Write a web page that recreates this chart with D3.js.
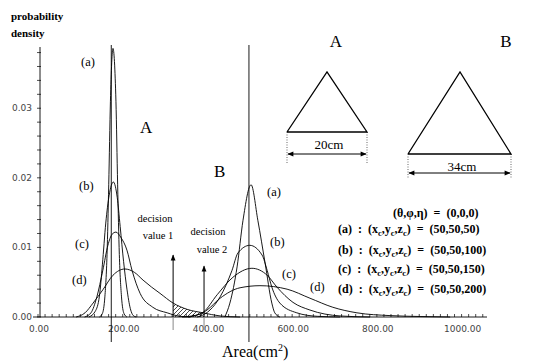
<!DOCTYPE html>
<html><head><meta charset="utf-8">
<script src="https://cdn.jsdelivr.net/npm/d3@7"></script>
<style>
body{margin:0;background:#fff;}
svg{display:block;}
</style></head>
<body>
<svg id="chart" width="536" height="364"></svg>
<script>
// ---------- data ----------
const xTickValues = [0, 200, 400, 600, 800, 1000];
const yTickValues = [0, 0.01, 0.02, 0.03];

const areaAa = [145,152,158,163,167,171,177,184,188,192,197,203,210];
const densAa = [0,0.0005,0.003,0.009,0.019,0.031,0.0386,0.031,0.019,0.009,0.003,0.0005,0];

const areaAb = [120,135,145,152,160,168,178,187,194,202,210,218,225,232];
const densAb = [0,0.0008,0.003,0.0075,0.0135,0.0175,0.0194,0.0172,0.013,0.008,0.004,0.0012,0.0002,0];

const areaAc = [110,125,139,153,165,175,184,196,210,222,241,271,305,335,360];
const densAc = [0,0.0006,0.0029,0.0067,0.0103,0.0119,0.0122,0.0114,0.0096,0.0067,0.0034,0.0014,0.0006,0.0001,0];

const areaAd = [90,111,130,153,177,205,228,248,268,288,319,352,390,430,477];
const densAd = [0,0.0006,0.002,0.0039,0.006,0.0069,0.0064,0.0053,0.0043,0.0034,0.002,0.0011,0.0006,0.00015,0];

const areaBa = [441,453,470,484,503,519,536,552,559,571];
const densBa = [0,0.002,0.0072,0.0139,0.019,0.0139,0.0078,0.002,0.0006,0];

const areaBb = [375,382,406,430,458,472,500,529,541,552,571,611,659,713];
const densBb = [0,0.0001,0.001,0.0029,0.0067,0.0092,0.0103,0.0089,0.0067,0.0043,0.002,0.0006,0.0001,0];

const areaBc = [355,390,423,460,505,541,564,602,642,713,784];
const densBc = [0,0.0007,0.0032,0.0057,0.007,0.006,0.0043,0.0021,0.001,0.00015,0];

const areaBd = [340,382,399,430,477,524,588,642,696,753,831,902,973];
const densBd = [0,0.0004,0.001,0.0027,0.0042,0.0045,0.004,0.0027,0.0014,0.0006,0.0002,0.00007,0];

const trueAreas = [173, 498];          // vertical reference lines (A, B)
const decisionValues = [319, 392];     // decision value 1, 2
const decisionTops = [0.0089, 0.0073];
const curveLabels = ["(a)", "(b)", "(c)", "(d)"];
const legendZc = [50, 100, 150, 200];
const triangleSides = ["20cm", "34cm"];

// ---------- setup ----------
const svg = d3.select("#chart");
const serif = "'Liberation Serif','Times New Roman',serif";
const sans = "'DejaVu Sans',sans-serif";

const x = d3.scaleLinear().domain([0, 1060]).range([38, 487]);
const y = d3.scaleLinear().domain([0, 0.0388]).range([317, 47]);

const defs = svg.append("defs");
const hatch = defs.append("pattern").attr("id","hatch").attr("patternUnits","userSpaceOnUse")
  .attr("width",4).attr("height",4);
hatch.append("path").attr("d","M-1,1 l2,-2 M0,4 l4,-4 M3,5 l2,-2").attr("stroke","#000").attr("stroke-width",0.7);
function mk(id){
  defs.append("marker").attr("id",id).attr("viewBox","0 0 10 10").attr("refX",9).attr("refY",5)
    .attr("markerWidth",7).attr("markerHeight",6).attr("orient","auto-start-reverse")
    .append("path").attr("d","M0,1 L10,5 L0,9 Z").attr("fill","#000");
}
mk("arr");

// ---------- axes ----------
const minorX = d3.range(0, 1061, 200/12);
const gx = svg.append("g").attr("transform", `translate(0,${y(0)})`);
gx.append("line").attr("x1", 33).attr("x2", x(1060)).attr("y1",0).attr("y2",0).attr("stroke","#000").attr("stroke-width",0.9);
gx.selectAll("line.tk").data(minorX).join("line").attr("class","tk")
  .attr("x1", d=>x(d)).attr("x2", d=>x(d)).attr("y1", 0).attr("y2", -3)
  .attr("stroke","#000").attr("stroke-width",0.7);
gx.selectAll("text").data(xTickValues).join("text")
  .attr("x", d=>x(d)+1).attr("y", 15).attr("text-anchor","middle")
  .attr("font-family", sans).attr("font-size", 9).attr("fill","#444")
  .text(d=>d3.format(".2f")(d));

const gy = svg.append("g").attr("transform", `translate(${x(0)+2},0)`);
gy.append("line").attr("x1",0).attr("x2",0).attr("y1",y(0)).attr("y2",y(0.0388)).attr("stroke","#000").attr("stroke-width",0.9);
gy.selectAll("line.tk").data(d3.range(0, 0.0387, 0.002)).join("line").attr("class","tk")
  .attr("x1",-3).attr("x2",1).attr("y1",d=>y(d)).attr("y2",d=>y(d))
  .attr("stroke","#000").attr("stroke-width",0.7);
gy.selectAll("text").data(yTickValues).join("text")
  .attr("x", -8).attr("y", d=>y(d)+3).attr("text-anchor","end")
  .attr("font-family", sans).attr("font-size", 9).attr("fill","#444")
  .text(d=>d3.format(".2f")(d));

// ---------- hatch between decision values under A(d) ----------
defs.append("clipPath").attr("id","dclip").append("rect")
  .attr("x", x(decisionValues[0])).attr("y", 0)
  .attr("width", x(decisionValues[1]) - x(decisionValues[0])).attr("height", y(0));
const Ad = areaAd.map((a,i)=>[a, densAd[i]]);
svg.append("path").datum(Ad).attr("clip-path","url(#dclip)")
  .attr("d", d3.area().x(d=>x(d[0])).y0(y(0)).y1(d=>y(d[1])).curve(d3.curveMonotoneX))
  .attr("fill","url(#hatch)");

// ---------- curves ----------
const series = [
  [areaAa, densAa],[areaAb, densAb],[areaAc, densAc],[areaAd, densAd],
  [areaBa, densBa],[areaBb, densBb],[areaBc, densBc],[areaBd, densBd]
];
const line = d3.line().x(d=>x(d[0])).y(d=>y(d[1])).curve(d3.curveMonotoneX);
svg.selectAll("path.curve").data(series).join("path").attr("class","curve")
  .attr("d", s => line(s[0].map((a,i)=>[a, s[1][i]])))
  .attr("fill","none").attr("stroke","#000").attr("stroke-width",0.9);

// vertical reference lines
svg.selectAll("line.ref").data(trueAreas).join("line").attr("class","ref")
  .attr("x1", d=>x(d)).attr("x2", d=>x(d)).attr("y1", 45).attr("y2", 342)
  .attr("stroke","#000").attr("stroke-width",0.9);

// decision arrows
decisionValues.forEach((dv,i)=>{
  svg.append("line").attr("x1",x(dv)).attr("x2",x(dv)).attr("y1",y(0)).attr("y2",330)
    .attr("stroke","#888").attr("stroke-width",1);
  svg.append("line").attr("x1",x(dv)).attr("x2",x(dv)).attr("y1",y(0)).attr("y2",y(decisionTops[i]))
    .attr("stroke","#000").attr("stroke-width",1).attr("marker-end","url(#arr)");
});

// ---------- texts ----------
function txt(t, px, py, size, opts={}){
  return svg.append("text").attr("x",px).attr("y",py).attr("font-family",opts.family||serif)
    .attr("font-size",size).attr("font-weight",opts.weight||"normal")
    .attr("text-anchor",opts.anchor||"start").attr("fill","#000")
    .style("white-space","pre").text(t);
}
txt("probability", 11, 20, 11, {weight:"bold"});
txt("density", 11, 37, 11, {weight:"bold"});
txt("A", 140, 133, 17);
txt("B", 214, 177, 17);

const aLabelPos = [[81,66],[79,190],[75,248],[72,284]];
const bLabelPos = [[267,196],[270,246],[282,278],[310,291]];
curveLabels.forEach((l,i)=>{
  txt(l, aLabelPos[i][0], aLabelPos[i][1], 12.5);
  txt(l, bLabelPos[i][0], bLabelPos[i][1], 12.5);
});

txt("decision", 155, 222, 10.5, {anchor:"middle"});
txt("value 1", 158, 239, 10.5, {anchor:"middle"});
txt("decision", 208, 235, 10.5, {anchor:"middle"});
txt("value 2", 212, 253, 10.5, {anchor:"middle"});

// axis title
const at = txt("Area(cm", 222, 357, 16);
at.append("tspan").attr("font-size",10).attr("dy",-6).text("2");
at.append("tspan").attr("dy",6).text(")");

// legend
txt("(θ,φ,η)  =  (0,0,0)", 393, 217, 12, {weight:"bold"});
const legY = [233, 254, 273, 293];
curveLabels.forEach((l,i)=>{
  const t = txt(`${l}  :  (x`, 338, legY[i], 12, {weight:"bold"});
  t.append("tspan").attr("font-size",8.5).attr("dy",3).text("c");
  t.append("tspan").attr("dy",-3).text(",y");
  t.append("tspan").attr("font-size",8.5).attr("dy",3).text("c");
  t.append("tspan").attr("dy",-3).text(",z");
  t.append("tspan").attr("font-size",8.5).attr("dy",3).text("c");
  t.append("tspan").attr("dy",-3).text(`)  =  (50,50,${legendZc[i]})`);
});

// triangles
const tri = [
  {label:"A", lx:336, apex:[327,72], bl:[287,132], br:[367,132], dimY:154, dotEnd:163, tx:329, ty:149},
  {label:"B", lx:506, apex:[460,72], bl:[408,154], br:[511,154], dimY:173, dotEnd:178, tx:462, ty:171}
];
tri.forEach((t,i)=>{
  txt(t.label, t.lx, 47, 17, {anchor:"middle"});
  svg.append("path").attr("d", d3.line()([t.bl, t.apex, t.br, t.bl]))
    .attr("fill","none").attr("stroke","#000").attr("stroke-width",1.3);
  [t.bl[0], t.br[0]].forEach(px=>{
    svg.append("line").attr("x1",px).attr("x2",px).attr("y1",t.bl[1]).attr("y2",t.dotEnd)
      .attr("stroke","#000").attr("stroke-width",0.6).attr("stroke-dasharray","1,1.5");
  });
  svg.append("line").attr("x1",t.bl[0]+1).attr("x2",t.br[0]-1).attr("y1",t.dimY).attr("y2",t.dimY)
    .attr("stroke","#000").attr("stroke-width",1)
    .attr("marker-start","url(#arr)").attr("marker-end","url(#arr)");
  txt(triangleSides[i], t.tx, t.ty, 13, {anchor:"middle"});
});
</script>
</body></html>
